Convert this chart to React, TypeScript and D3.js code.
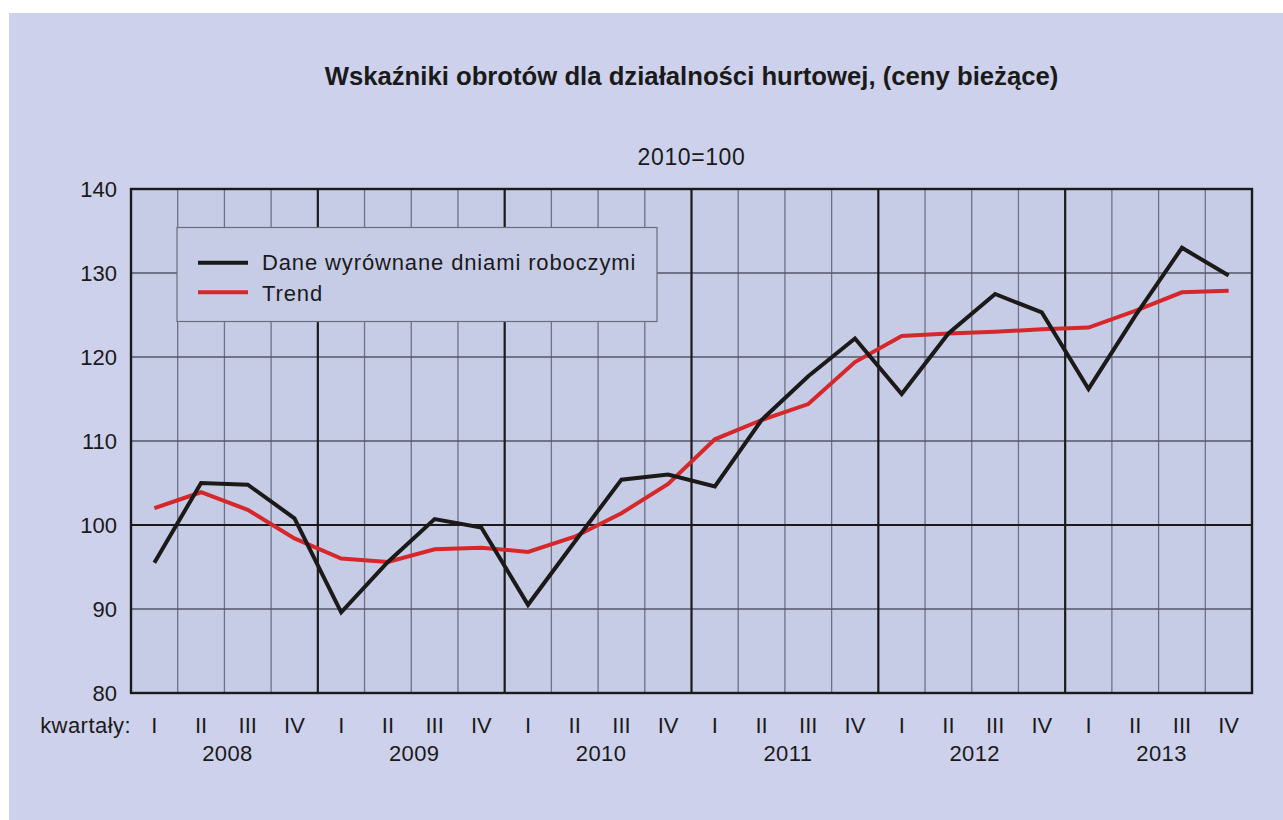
import React from 'react';
import * as d3 from 'd3';

const years = ['2008', '2009', '2010', '2011', '2012', '2013'];
const quarters = ['I', 'II', 'III', 'IV'];
const yTicks = [80, 90, 100, 110, 120, 130, 140];

// Dane wyrównane dniami roboczymi
const adjusted = [
  95.5, 105.0, 104.8, 100.8,
  89.6, 95.6, 100.7, 99.7,
  90.5, 98.0, 105.4, 106.0,
  104.6, 112.5, 117.7, 122.2,
  115.6, 122.8, 127.5, 125.3,
  116.2, 124.9, 133.0, 129.7,
];

// Trend
const trend = [
  102.0, 103.9, 101.8, 98.4,
  96.0, 95.6, 97.1, 97.3,
  96.8, 98.6, 101.4, 104.9,
  110.2, 112.5, 114.4, 119.4,
  122.5, 122.8, 123.0, 123.3,
  123.5, 125.5, 127.7, 127.9,
];

const W = 1283;
const H = 820;
const left = 131, right = 1252, top = 189, bottom = 693;
const font = '"Liberation Sans", Arial, Helvetica, sans-serif';

const periods = years.flatMap(y => quarters.map(q => `${y}-${q}`));

export default function App() {
  const x = d3.scaleBand<string>().domain(periods).range([left, right]).padding(0);
  const y = d3.scaleLinear().domain([80, 140]).range([bottom, top]);
  const cx = (i: number) => (x(periods[i]) as number) + x.bandwidth() / 2;

  const line = d3.line<number>()
    .x((_, i) => cx(i))
    .y(d => y(d));

  return (
    <svg width={W} height={H} style={{ position: 'absolute', left: 0, top: 0 }} fontFamily={font}>
      <rect x={0} y={0} width={W} height={H} fill="#ffffff" />
      <rect x={9} y={13} width={W - 9} height={H - 13} fill="#ced1eb" />

      <text x={(left + right) / 2} y={85} textAnchor="middle" fontSize={25.7} fontWeight="bold" fill="#1a1a1a">
        Wskaźniki obrotów dla działalności hurtowej, (ceny bieżące)
      </text>
      <text x={(left + right) / 2} y={165} textAnchor="middle" fontSize={23} letterSpacing={0.6} fill="#1a1a1a">
        2010=100
      </text>

      <rect x={left} y={top} width={right - left} height={bottom - top} fill="#c7cce6" />

      {/* quarter grid lines */}
      {periods.map((p, i) => i % 4 !== 0 && (
        <line key={p} x1={x(p)} x2={x(p)} y1={top} y2={bottom} stroke="#6f7184" strokeWidth={1.3} />
      ))}
      {/* horizontal grid lines */}
      {yTicks.filter(t => t !== 80 && t !== 140).map(t => (
        <line key={t} x1={left} x2={right} y1={y(t)} y2={y(t)}
          stroke={t === 100 ? '#1a1a1a' : '#55566a'} strokeWidth={t === 100 ? 2 : 1.3} />
      ))}
      {/* year separators */}
      {years.slice(1).map((yr, j) => {
        const xx = x(periods[(j + 1) * 4]) as number;
        return <line key={yr} x1={xx} x2={xx} y1={top} y2={bottom} stroke="#1a1a1a" strokeWidth={2.2} />;
      })}

      <rect x={left} y={top} width={right - left} height={bottom - top} fill="none" stroke="#1a1a1a" strokeWidth={2.4} />

      {/* legend */}
      <rect x={177} y={227.5} width={480} height={94} fill="#c7cce6" stroke="#6c6d7c" strokeWidth={1.2} />
      <line x1={198} x2={248} y1={262.7} y2={262.7} stroke="#1c1a18" strokeWidth={4} />
      <line x1={198} x2={248} y1={292.3} y2={292.3} stroke="#d6282a" strokeWidth={4} />
      <text x={262} y={269.5} fontSize={22} letterSpacing={0.87} fill="#1a1a1a">Dane wyrównane dniami roboczymi</text>
      <text x={262} y={301} fontSize={22} letterSpacing={0.87} fill="#1a1a1a">Trend</text>

      <path d={line(trend) ?? ''} fill="none" stroke="#d6282a" strokeWidth={4} strokeLinejoin="miter" />
      <path d={line(adjusted) ?? ''} fill="none" stroke="#1c1a18" strokeWidth={4} strokeLinejoin="miter" />

      {/* y axis labels */}
      {yTicks.map(t => (
        <text key={t} x={117} y={y(t)} dy="0.36em" textAnchor="end" fontSize={22} fill="#1a1a1a">{t}</text>
      ))}

      {/* x axis labels */}
      <text x={131} y={733} textAnchor="end" fontSize={22} letterSpacing={0.45} fill="#1a1a1a">kwartały:</text>
      {periods.map((p, i) => (
        <text key={p} x={cx(i)} y={733} textAnchor="middle" fontSize={22} fill="#1a1a1a">{quarters[i % 4]}</text>
      ))}
      {years.map((yr, j) => {
        const x0 = x(periods[j * 4]) as number;
        return <text key={yr} x={x0 + x.bandwidth() * 2 + 3} y={761} textAnchor="middle" fontSize={22} letterSpacing={0.4} fill="#1a1a1a">{yr}</text>;
      })}
    </svg>
  );
}
